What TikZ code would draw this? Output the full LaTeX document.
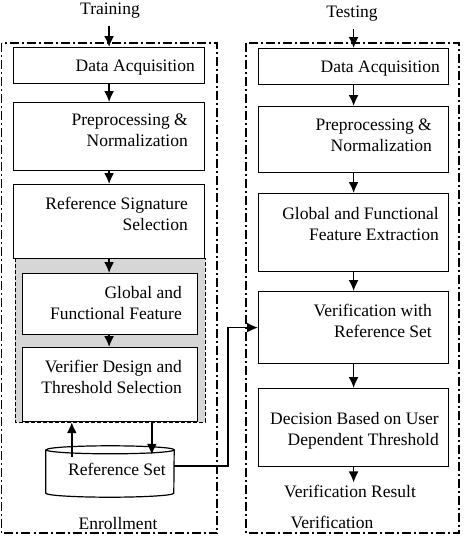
\documentclass[tikz,border=0pt]{standalone}
\usepackage{fontspec}
\setmainfont{Liberation Serif}
\usetikzlibrary{arrows.meta}
\begin{document}
\begin{tikzpicture}[x=1pt,y=1pt,
	blk/.style={draw,fill=white,line width=1.2pt,minimum height=#1,anchor=north west,inner sep=0},
	txt/.style={font=\fontsize{17.5}{21}\selectfont,align=right,inner sep=0,anchor=north east},
	lbl/.style={font=\fontsize{17.5}{21}\selectfont,inner sep=2pt,anchor=base},
	frame/.style={line width=1.1pt,dash pattern=on 9pt off 3pt on 2pt off 3pt},
	arr/.style={line width=1.6pt,-{Latex[length=11pt,width=10pt]}}]
	\useasboundingbox(0,0)rectangle(467,-539);
	% enrollment and verification frames
	\draw[frame](1.5,-43)rectangle(217,-533);
	\draw[frame](246,-43)rectangle(459,-533);
	\filldraw[fill=black!16,line width=0.9pt,dash pattern=on 4pt off 2pt](15,-258)rectangle(205,-422);
	% training side
	\node[blk=36,minimum width=191](lda)at(13,-47){};
	\node[blk=68,minimum width=191](lpre)at(13,-102){};
	\node[blk=74,minimum width=191](lref)at(13,-184){};
	\node[blk=61,minimum width=175](lglob)at(22,-273){};
	\node[blk=74,minimum width=175](lver)at(22,-347){};
	\node[txt](tlda)at(195,-60){Data Acquisition};
	\node[txt](tlpre)at(188,-114){Preprocessing \&\\Normalization};
	\node[txt](tlref)at(188,-197){Reference Signature\\Selection};
	\node[txt](tlglob)at(182,-286){Global and\\Functional Feature};
	\node[txt](tlver)at(182,-360){Verifier Design and\\Threshold Selection};
	% reference set store
	\node[minimum width=128,minimum height=51,inner sep=0](refset)at(110,-471.5){};
	\draw[line width=1.2pt]([yshift=-4]refset.north west)--([yshift=4]refset.south west)
		arc[start angle=180,end angle=360,x radius=64,y radius=4]--([yshift=-4]refset.north east)
		arc[start angle=0,end angle=180,x radius=64,y radius=4]
		arc[start angle=180,end angle=360,x radius=64,y radius=4];
	\node[lbl](tref)at(117,-475){Reference Set};
	% testing side
	\node[blk=36,minimum width=190](rda)at(258,-48){};
	\node[blk=66,minimum width=190](rpre)at(258,-106){};
	\node[blk=78,minimum width=190](rglob)at(258,-193){};
	\node[blk=72,minimum width=190](rver)at(258,-291){};
	\node[blk=78,minimum width=190](rdec)at(258,-388){};
	\node[txt](trda)at(440,-61){Data Acquisition};
	\node[txt](trpre)at(432,-119){Preprocessing \&\\Normalization};
	\node[txt](trglob)at(439,-207){Global and Functional\\Feature Extraction};
	\node[txt](trver)at(432,-304){Verification with\\Reference Set};
	\node[txt](trdec)at(439,-412){Decision Based on User\\Dependent Threshold};
	% labels
	\node[lbl](train)at(110,-14){Training};
	\node[lbl](test)at(352,-17){Testing};
	\node[lbl](vres)at(350,-497){Verification Result};
	\node[lbl](enr)at(118,-529){Enrollment};
	\node[lbl](verif)at(332,-528){Verification};
	% arrows
	\draw[arr](lda.north|-train.south)++(0,-6)--(lda);
	\draw[arr](lda)--(lpre);
	\draw[arr](lpre)--(lref);
	\draw[arr](lref.south)--(lref.south|-lglob.north);
	\draw[arr](lref.south|-lglob.south)--(lref.south|-lver.north);
	\draw[arr]([xshift=26,yshift=-11]refset.north west)--([xshift=26]refset.north west|-lver.south);
	\draw[arr]([xshift=106]refset.north west|-lver.south)--([xshift=106,yshift=-9]refset.north west);
	\draw[arr]([yshift=5.5]refset.east)-|([xshift=-30]rver.west)--(rver.west);
	\draw[arr](rda.north|-test.south)++(0,-6)--(rda);
	\draw[arr](rda)--(rpre);
	\draw[arr](rpre)--(rglob);
	\draw[arr](rglob)--(rver);
	\draw[arr](rver)--(rdec);
	\draw[arr](rdec.south)--(rdec.south|-vres.north);
\end{tikzpicture}
\end{document}
